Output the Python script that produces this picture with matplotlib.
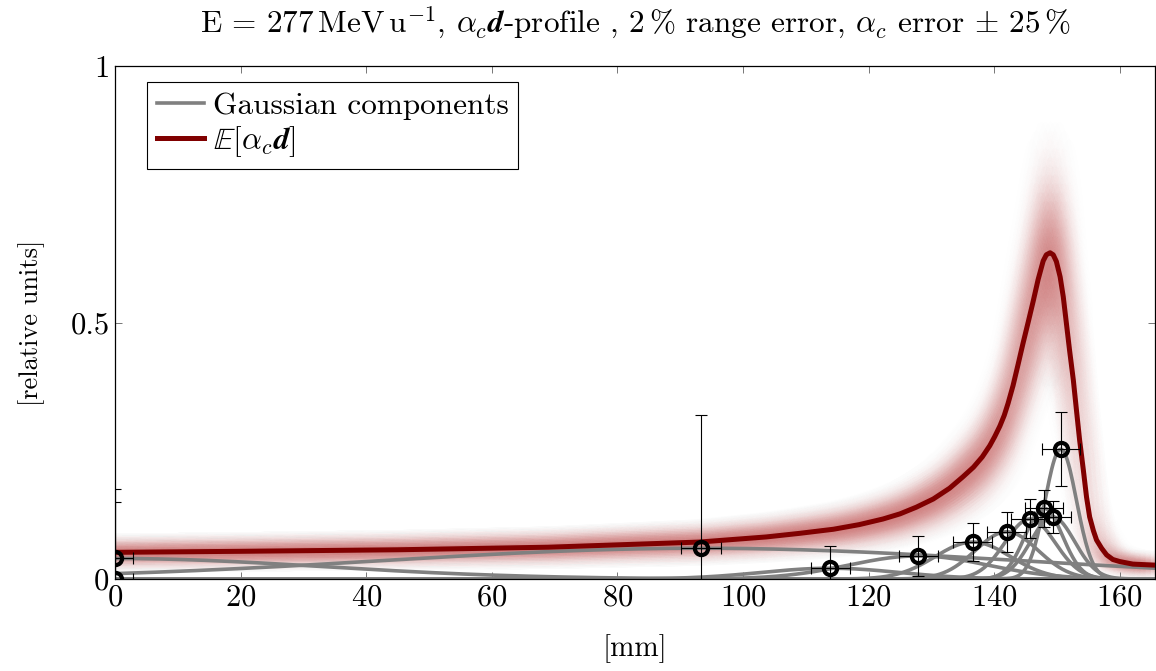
import numpy as np
import matplotlib
matplotlib.use('Agg')
import matplotlib.pyplot as plt
from matplotlib.mathtext import MathTextParser

plt.rcParams['font.family'] = 'serif'
plt.rcParams['font.serif'] = ['cmr10', 'DejaVu Serif']
plt.rcParams['mathtext.fontset'] = 'cm'
plt.rcParams['axes.unicode_minus'] = False
plt.rcParams['axes.formatter.use_mathtext'] = True

# measured points (peak position, height) with errors
pt_x = [0.0, 0.0, 93.3, 113.9, 127.9, 136.6, 142.0, 145.7, 147.9, 149.3, 150.6]
pt_y = [0.040, 0.0, 0.060, 0.021, 0.045, 0.072, 0.092, 0.117, 0.138, 0.121, 0.253]
pt_xerr = [2.9, 2.9, 3.2, 3.1, 3.1, 3.1, 3.1, 3.1, 3.0, 3.0, 3.0]
pt_yerr = [0.135, 0.150, 0.260, 0.043, 0.039, 0.037, 0.039, 0.038, 0.036, 0.032, 0.072]

# width of each gaussian component (mm)
comp_sigma = [33.0, 10.0, 50.0, 11.0, 11.0, 6.0, 5.0, 4.0, 3.0, 3.5, 2.5]

# expected profile E[alpha_c d]
mean_x = [0, 20, 45, 69, 93, 103.7, 109, 114.4, 118.5, 122.3, 125, 127.6, 130.3, 132.9,
          135, 136.7, 138.1, 139.3, 140.1, 140.9, 141.6, 142.2, 143.0, 143.8, 144.6, 145.4,
          146.2, 147.0, 147.8, 148.3, 148.9, 149.4, 149.9, 150.5, 151.0, 151.5, 152.0,
          152.6, 153.1, 153.6, 154.2, 154.7, 155.2, 155.8, 156.3, 157.1, 157.9, 158.9,
          160.0, 162.1, 165.7]
mean_y = [0.052, 0.054, 0.057, 0.062, 0.072, 0.082, 0.089, 0.097, 0.106, 0.117, 0.127,
          0.140, 0.156, 0.177, 0.199, 0.218, 0.238, 0.260, 0.278, 0.298, 0.319, 0.342,
          0.377, 0.418, 0.460, 0.500, 0.541, 0.584, 0.620, 0.632, 0.636, 0.632, 0.619,
          0.589, 0.550, 0.498, 0.446, 0.388, 0.329, 0.271, 0.212, 0.160, 0.121, 0.094,
          0.076, 0.060, 0.047, 0.038, 0.034, 0.029, 0.027]

range_err = 0.02
alpha_err = 0.25

try:
    MathTextParser('agg').parse(r'$\boldsymbol{d}$')
    bold_d = r'\boldsymbol{d}'
except Exception:
    bold_d = r'\mathbf{d}'

fig = plt.figure(figsize=(11.56, 6.71), dpi=100)
ax = fig.add_axes([0.0995, 0.1371, 0.8996, 0.7645])

mx = np.array(mean_x)
my = np.array(mean_y)

# fuzzy uncertainty band (alpha_c error + range error)
f_edges = np.linspace(-1.5 * alpha_err, 1.5 * alpha_err, 31)
shifts = np.linspace(-range_err, range_err, 9)
for s in shifts:
    ws = np.exp(-0.5 * (s / (0.55 * range_err)) ** 2)
    for f0, f1 in zip(f_edges[:-1], f_edges[1:]):
        fm = 0.5 * (f0 + f1)
        wf = np.exp(-0.5 * (fm / (0.55 * alpha_err)) ** 2)
        ax.fill_between(mx * (1 + s), my + f0 * (my + 0.05), my + f1 * (my + 0.05),
                        color='#b01c1c', alpha=0.14 * ws * wf, lw=0, zorder=1)

# gaussian components
xx = np.linspace(0, 166, 800)
for mu, a, sg in zip(pt_x, pt_y, comp_sigma):
    ax.plot(xx, a * np.exp(-0.5 * ((xx - mu) / sg) ** 2), color='#808080', lw=2.6, zorder=2)
ax.plot([], [], color='#808080', lw=2.6, label='Gaussian components')

ax.plot(mx, my, color='#800000', lw=3.6, zorder=3, solid_joinstyle='round',
        label=r'$\mathbb{E}[\alpha_c ' + bold_d + ']$')

ax.errorbar(pt_x, pt_y, xerr=pt_xerr, yerr=pt_yerr, fmt='none', ecolor='black',
            elinewidth=0.8, capsize=4, capthick=0.8, zorder=4)
ax.plot(pt_x, pt_y, 'o', ms=9.5, mfc='none', mec='black', mew=3.0, zorder=5)

ax.set_xlim(0, 165.6)
ax.set_ylim(0, 1)
ax.set_xticks([0, 20, 40, 60, 80, 100, 120, 140, 160])
ax.set_yticks([0, 0.5, 1], labels=['0', '0.5', '1'])
ax.tick_params(direction='in', top=True, right=True, length=5, width=0.6,
               color='#606060', labelsize=22, pad=4)
for sp in ax.spines.values():
    sp.set_linewidth(0.9)

ax.set_xlabel('[mm]', fontsize=21, labelpad=16)
ax.set_ylabel('[relative units]', fontsize=19, labelpad=18)
ax.set_title(r'E = 277$\,$MeV$\,$u$^{-1}$, $\alpha_c' + bold_d + r'$-profile , 2$\,$% range error, '
             r'$\alpha_c$ error $\pm$ 25$\,$%', fontsize=22.5, pad=24)

leg = ax.legend(loc='upper left', fontsize=22.5, frameon=True, fancybox=False,
                edgecolor='black', framealpha=1, handlelength=1.5, borderpad=0.3,
                labelspacing=0.15, handletextpad=0.3, borderaxespad=0,
                bbox_to_anchor=(0.031, 0.968))
leg.get_frame().set_linewidth(0.8)

fig.savefig('out.png', dpi=100)
